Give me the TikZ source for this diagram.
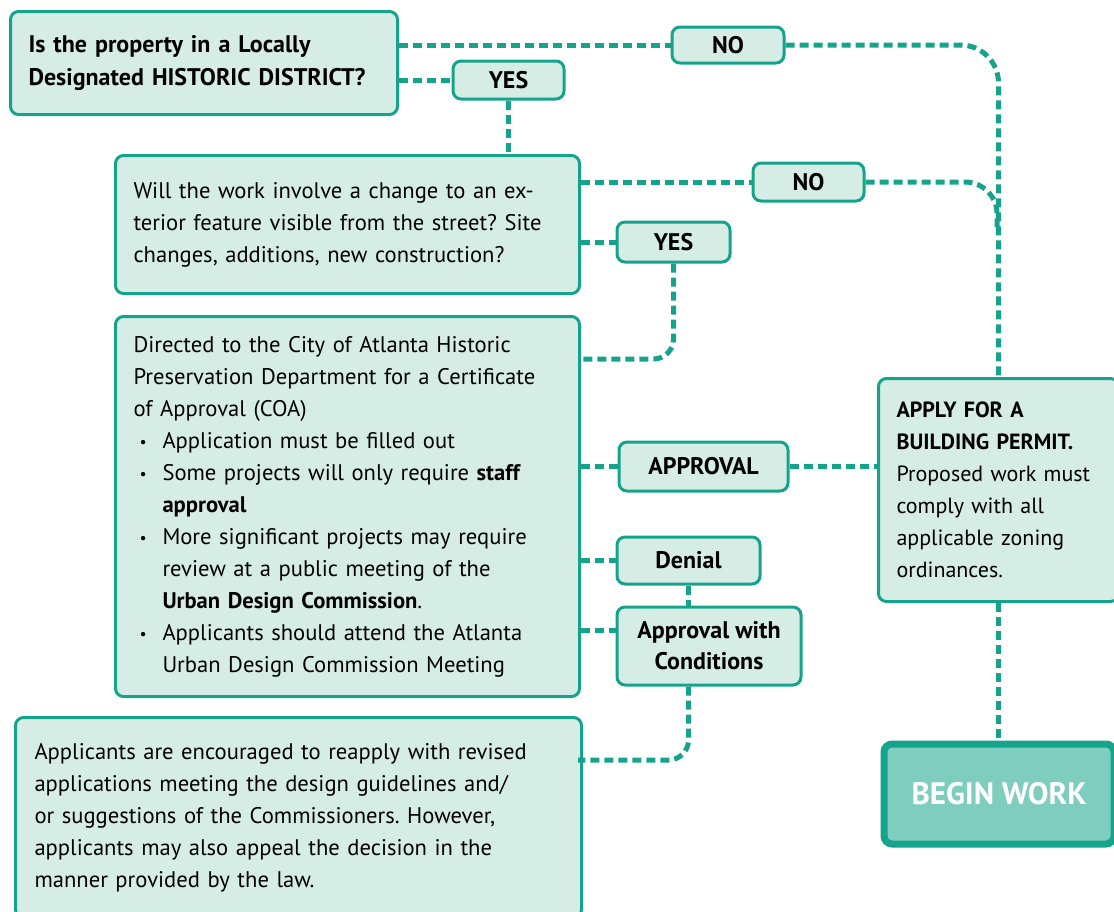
\documentclass[tikz,border=0pt]{standalone}
\usepackage{fontspec}
\setmainfont{PT Sans}
\usetikzlibrary{positioning}
\frenchspacing

\definecolor{flowteal}{RGB}{22,163,140}
\definecolor{flowfill}{RGB}{214,237,230}
\definecolor{flowdark}{RGB}{126,205,191}

\newcommand{\cbullet}{\hspace*{3pt}\makebox[11.5pt][l]{\raisebox{0.5pt}{\scalebox{0.7}{\textbullet}}}}
\newcommand{\cindent}{\hspace*{14.5pt}}

\tikzset{
  box/.style={draw=flowteal, fill=flowfill, line width=1.5pt, rounded corners=4pt,
    anchor=north west, inner xsep=9pt, inner ysep=0pt, align=left,
    font=\fontsize{11.3}{16}\selectfont},
  tag/.style={draw=flowteal, fill=flowfill, line width=1.5pt, rounded corners=4pt,
    inner sep=0pt, align=center, font=\fontsize{12}{15.5}\selectfont\bfseries},
  link/.style={draw=flowteal, line width=2.5pt, dash pattern=on 4.5pt off 2.5pt},
}

\begin{document}
\begin{tikzpicture}[x=0.5pt,y=-0.5pt]
\useasboundingbox (0,0) rectangle (1114,911);

% questions
\node[box, text width=175.5pt, minimum height=51.5pt, font=\fontsize{12}{16.5}\selectfont\bfseries] (district) at (9,10)
  {Is the property in a Locally\\Designated HISTORIC DISTRICT?};
\node[box, text width=214pt, minimum height=69pt] (exterior) at (114,154)
  {Will the work involve a change to an ex-\\terior feature visible from the street? Site\\changes, additions, new construction?};
\node[box, text width=214pt, minimum height=190pt] (coa) at (114,315)
  {Directed to the City of Atlanta Historic\\
   Preservation Department for a Certificate\\
   of Approval (COA)\\
   \cbullet Application must be filled out\\
   \cbullet Some projects will only require \textbf{staff}\\
   \cindent\textbf{approval}\\
   \cbullet More significant projects may require\\
   \cindent review at a public meeting of the\\
   \cindent\textbf{Urban Design Commission}.\\
   \cbullet Applicants should attend the Atlanta\\
   \cindent Urban Design Commission Meeting};
\node[box, text width=264pt, minimum height=100pt, inner xsep=9.5pt] (reapply) at (14,716)
  {Applicants are encouraged to reapply with revised\\
   applications meeting the design guidelines and/\\
   or suggestions of the Commissioners. However,\\
   applicants may also appeal the decision in the\\
   manner provided by the law.};
\node[box, text width=102pt, minimum height=111.5pt, font=\fontsize{11}{16}\selectfont] (apply) at (877,377)
  {\textbf{APPLY FOR A}\\\textbf{BUILDING PERMIT.}\\Proposed work must\\comply with all\\applicable zoning\\ordinances.};
\node[box, fill=flowdark, line width=3.5pt, minimum width=115pt, minimum height=50pt, align=center,
  text=white, font=\fontsize{15.5}{18}\selectfont\bfseries] (begin) at (880.5,740.5) {BEGIN WORK};

% answers
\node[tag, minimum width=56pt, minimum height=18pt] (no1) at (728,45) {NO};
\node[tag, minimum width=55.5pt, minimum height=19pt] (yes1) at (508.5,80) {YES};
\node[tag, minimum width=55.5pt, minimum height=19pt] (no2) at (808.5,182) {NO};
\node[tag, minimum width=56.5pt, minimum height=20pt] (yes2) at (673.5,242) {YES};
\node[tag, minimum width=84.5pt, minimum height=24.5pt] (approval) at (703.5,466.5) {APPROVAL};
\node[tag, minimum width=71.5pt, minimum height=23.5pt] (denial) at (688.5,560.5) {Denial};
\node[tag, minimum width=92pt, minimum height=39pt] (conditions) at (709,646) {Approval with\\Conditions};

\coordinate (coaIn) at (578,359);
\coordinate (condIn) at (617,630);
\coordinate (reapplyIn) at (578,760);
\coordinate (merge) at (997,228);

\draw[link] (district.east |- no1.west) -- (no1.west);
\draw[link, rounded corners=19pt] (no1.east) -| (apply.north);
\draw[link] (district.east |- yes1.west) -- (yes1.west);
\draw[link] (yes1.south) -- (yes1.south |- exterior.north);
\draw[link] (exterior.east |- no2.west) -- (no2.west);
\draw[link, rounded corners=16pt] (no2.east) -| (merge);
\draw[link] (exterior.east |- yes2.west) -- (yes2.west);
\draw[link, rounded corners=10pt] (yes2.south) |- (coaIn);
\draw[link] (coa.east |- approval.west) -- (approval.west);
\draw[link] (approval.east) -- (approval.east -| apply.west);
\draw[link] (coa.east |- denial.west) -- (denial.west);
\draw[link] (denial.south) -- (denial.south |- conditions.north);
\draw[link] (coa.east |- condIn) -- (condIn);
\draw[link, rounded corners=10pt] (denial.south |- conditions.south) |- (reapplyIn);
\draw[link] (apply.south) -- (apply.south |- begin.north);
\end{tikzpicture}
\end{document}
